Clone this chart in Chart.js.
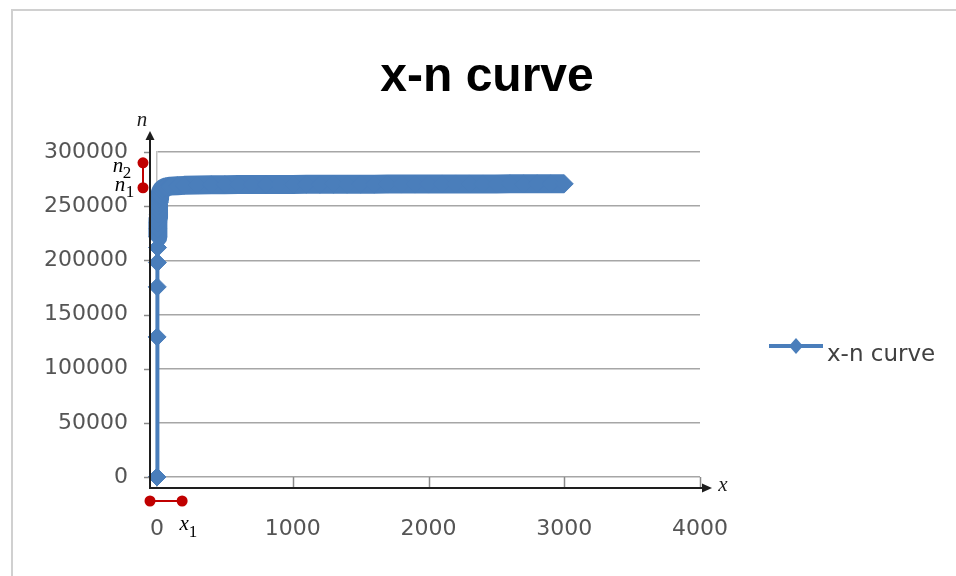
<!DOCTYPE html>
<html>
<head>
<meta charset="utf-8">
<script src="https://cdn.jsdelivr.net/npm/chart.js@4.4.1/dist/chart.umd.min.js"></script>
<style>
  body { margin: 0; background: #fff; }
  #frame { position: absolute; left: 11px; top: 9px; width: 1100px; height: 700px;
           border-left: 2px solid #d0d0d0; border-top: 2px solid #d0d0d0; }
  #c { position: absolute; left: 0; top: 0; }
</style>
</head>
<body>
<div id="frame"></div>
<canvas id="c" width="956" height="576"></canvas>
<script>
// Datos de la curva
const seriesName = 'x-n curve'
const xValues = [0, 1, 2, 3, 4, 5, 6, 7, 8, 9, 10, 12, 14, 16, 18, 20, 25, 30, 35, 40,
  50, 60, 70, 80, 90, 100, 150, 200, 300, 400, 500, 600, 700, 800, 900, 1000,
  1100, 1200, 1300, 1400, 1500, 1600, 1700, 1800, 1900, 2000, 2100, 2200, 2300, 2400,
  2500, 2600, 2700, 2800, 2900, 3000]
const nValues = [0, 129300, 175500, 198000, 211800, 221600, 229000, 234500, 239000, 242500, 245500,
  250000, 253500, 256500, 258500, 260000, 262500, 264000, 265000, 265800,
  266800, 267400, 267800, 268100, 268300, 268500, 268900, 269200, 269500, 269700,
  269800, 269900, 270000, 270000, 270100, 270100, 270200, 270200, 270200, 270300,
  270300, 270300, 270400, 270400, 270400, 270400, 270500, 270500, 270500, 270500,
  270500, 270600, 270600, 270600, 270600, 270600]

// Etiquetas de los ejes
const xTicks = [0, 1000, 2000, 3000, 4000]
const nTicks = [0, 50000, 100000, 150000, 200000, 250000, 300000]

// Marcas de anotación (n1, n2, x1)
const nMarks = [267000, 290000]
const xMark = 185

const blue = '#4A7EBB'
const red = '#C00000'

const points = xValues.map((x, i) => ({ x: x, y: nValues[i] }))

function line(ctx, x1, y1, x2, y2) {
  ctx.beginPath()
  ctx.moveTo(x1, y1)
  ctx.lineTo(x2, y2)
  ctx.stroke()
}

function dot(ctx, x, y) {
  ctx.beginPath()
  ctx.arc(x, y, 5.5, 0, Math.PI * 2)
  ctx.fill()
}

// Flechas, marcas rojas, título y leyenda
const annotations = {
  id: 'annotations',
  afterDatasetsDraw(chart) {
    const { ctx, chartArea: a, scales } = chart
    const sx = scales.x, sy = scales.y
    const ox = a.left - 7
    const oy = a.bottom
    ctx.save()

    // marcas de los ejes
    ctx.strokeStyle = '#8a8a8a'
    ctx.lineWidth = 1.5
    nTicks.forEach(v => {
      const py = Math.round(sy.getPixelForValue(v)) + 0.5
      line(ctx, ox - 6, py, ox, py)
    })
    xTicks.slice(1).forEach(v => {
      const px = Math.round(sx.getPixelForValue(v)) + 0.5
      line(ctx, px, sy.getPixelForValue(0), px, oy)
    })

    // ejes con flecha
    ctx.strokeStyle = '#1e1e1e'
    ctx.fillStyle = '#1e1e1e'
    ctx.lineWidth = 2
    line(ctx, ox, oy + 1, ox, a.top - 13)
    ctx.beginPath()
    ctx.moveTo(ox, a.top - 21)
    ctx.lineTo(ox - 4.5, a.top - 12)
    ctx.lineTo(ox + 4.5, a.top - 12)
    ctx.closePath()
    ctx.fill()
    line(ctx, ox - 1, oy, a.right + 3, oy)
    ctx.beginPath()
    ctx.moveTo(a.right + 12, oy)
    ctx.lineTo(a.right + 2, oy - 4.5)
    ctx.lineTo(a.right + 2, oy + 4.5)
    ctx.closePath()
    ctx.fill()

    ctx.font = 'italic 21px "Liberation Serif", serif'
    ctx.textAlign = 'center'
    ctx.textBaseline = 'middle'
    ctx.fillText('n', ox - 8, a.top - 32)
    ctx.fillText('x', a.right + 23, oy - 3)

    // marcas rojas
    ctx.strokeStyle = red
    ctx.fillStyle = red
    ctx.lineWidth = 2
    const py1 = sy.getPixelForValue(nMarks[0])
    const py2 = sy.getPixelForValue(nMarks[1])
    line(ctx, ox - 7, py1, ox - 7, py2)
    dot(ctx, ox - 7, py1)
    dot(ctx, ox - 7, py2)
    const px1 = sx.getPixelForValue(xMark)
    const my = oy + 13
    line(ctx, ox, my, px1, my)
    dot(ctx, ox, my)
    dot(ctx, px1, my)

    ctx.fillStyle = '#000'
    ctx.font = 'italic 21px "Liberation Serif", serif'
    ctx.fillText('n', ox - 32, py2 + 4)
    ctx.fillText('n', ox - 30, py1 - 2)
    ctx.fillText('x', px1 + 2, my + 23)
    ctx.font = '17px "Liberation Serif", serif'
    ctx.fillText('2', ox - 23, py2 + 11)
    ctx.fillText('1', ox - 20, py1 + 5)
    ctx.fillText('1', px1 + 11, my + 32)

    // título
    ctx.fillStyle = '#000'
    ctx.font = 'bold 48px "Liberation Sans", Arial, sans-serif'
    ctx.textBaseline = 'alphabetic'
    ctx.fillText(chart.data.datasets[0].label, 487, 91)

    // leyenda
    const ly = 346
    ctx.strokeStyle = blue
    ctx.fillStyle = blue
    ctx.lineWidth = 4
    line(ctx, 769, ly, 823, ly)
    ctx.beginPath()
    ctx.moveTo(796, ly - 8)
    ctx.lineTo(803, ly)
    ctx.lineTo(796, ly + 8)
    ctx.lineTo(789, ly)
    ctx.closePath()
    ctx.fill()
    ctx.fillStyle = '#404040'
    ctx.font = '23px "DejaVu Sans", sans-serif'
    ctx.textAlign = 'left'
    ctx.fillText(chart.data.datasets[0].label, 827, 361)

    ctx.restore()
  }
}

new Chart(document.getElementById('c'), {
  type: 'line',
  data: {
    datasets: [{
      label: seriesName,
      data: points,
      borderColor: blue,
      backgroundColor: blue,
      borderWidth: 4,
      borderJoinStyle: 'round',
      pointStyle: 'rectRot',
      pointRadius: 9,
      pointBorderWidth: 1,
      pointBorderColor: blue,
      pointBackgroundColor: blue,
      tension: 0,
      clip: false,
      segment: {
        borderWidth: ctx => ctx.p0.parsed.x >= 5 ? 19 : 4
      }
    }]
  },
  options: {
    responsive: false,
    animation: false,
    layout: { padding: { top: 152, right: 256, bottom: 0, left: 0 } },
    plugins: {
      legend: { display: false },
      title: { display: false },
      tooltip: { enabled: false }
    },
    scales: {
      x: {
        type: 'linear',
        min: 0,
        max: 4000,
        afterBuildTicks: s => { s.ticks = xTicks.map(v => ({ value: v })) },
        afterFit: s => { s.height = 88 },
        grid: { drawOnChartArea: false, drawTicks: false },
        border: { color: '#c0c0c0', width: 1 },
        ticks: { color: '#555555', font: { family: 'DejaVu Sans', size: 22 }, padding: 28, maxRotation: 0,
                 callback: v => String(v) }
      },
      y: {
        type: 'linear',
        min: -10150,
        max: 300000,
        afterBuildTicks: s => { s.ticks = nTicks.map(v => ({ value: v })) },
        afterFit: s => { s.width = 157 },
        grid: { color: '#a6a6a6', lineWidth: 1.5, drawTicks: false },
        border: { color: '#c0c0c0', width: 1.5 },
        ticks: { color: '#555555', font: { family: 'DejaVu Sans', size: 22 }, padding: 29,
                 callback: v => String(v) }
      }
    }
  },
  plugins: [annotations]
})
</script>
</body>
</html>
